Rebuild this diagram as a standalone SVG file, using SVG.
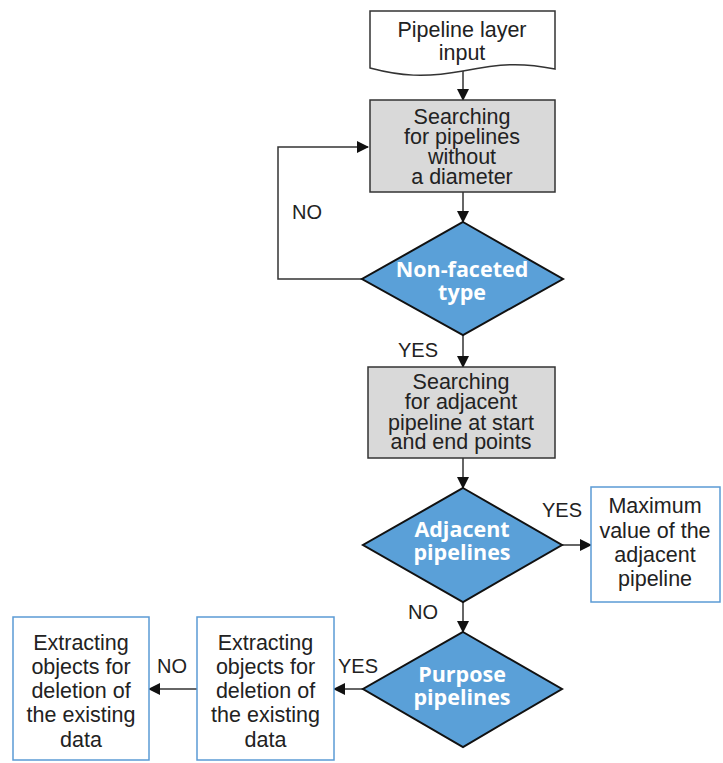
<svg xmlns="http://www.w3.org/2000/svg" width="723" height="763" viewBox="0 0 723 763">
<defs>
<marker id="ah" markerWidth="12" markerHeight="12" refX="11" refY="6" orient="auto" markerUnits="userSpaceOnUse">
<path d="M0,0 L12,6 L0,12 Z" fill="#111"/>
</marker>
<style>
.t{font-family:"Liberation Sans",Arial,sans-serif;font-size:21.5px;fill:#222;text-anchor:middle}
.lbl{font-family:"Liberation Sans",Arial,sans-serif;font-size:20px;fill:#222}
.dt{font-family:"Open Sans","Noto Sans",sans-serif;font-size:21.5px;font-weight:bold;fill:#fff;text-anchor:middle}
.gray{fill:#d9d9d9;stroke:#333;stroke-width:1.5}
.blue{fill:#fff;stroke:#5b9bd5;stroke-width:1.5}
.dia{fill:#5aa0d8;stroke:#111;stroke-width:2}
.doc{fill:#fff;stroke:#333;stroke-width:1.5}
.c{fill:none;stroke:#333;stroke-width:1.5;marker-end:url(#ah)}
</style>
</defs>
<rect width="723" height="763" fill="#fff"/>
<g id="connectors">
<path class="c" d="M463,71 V100"/>
<path class="c" d="M463,192 V222"/>
<path class="c" d="M362,279 H278 V147 H368"/>
<path class="c" d="M463,335 V367"/>
<path class="c" d="M463,458 V488"/>
<path class="c" d="M562,545 H591"/>
<path class="c" d="M463,602 V632"/>
<path class="c" d="M363,689 H334"/>
<path class="c" d="M197,689 H149"/>
</g>
<g id="labels">
<text class="lbl" x="292" y="219">NO</text>
<text class="lbl" x="398" y="357">YES</text>
<text class="lbl" x="542" y="517">YES</text>
<text class="lbl" x="408" y="619">NO</text>
<text class="lbl" x="338" y="673">YES</text>
<text class="lbl" x="157" y="673">NO</text>
</g>
<g id="input">
<path class="doc" d="M370,11 H555 V69 C520,62 500,64 463,71 C425,78 400,76 370,68 Z"/>
<text class="t" x="462" y="37">Pipeline layer</text>
<text class="t" x="462" y="60">input</text>
</g>
<g id="search1">
<rect class="gray" x="370" y="100" width="185" height="92"/>
<text class="t" x="462" y="124">Searching</text>
<text class="t" x="462" y="144">for pipelines</text>
<text class="t" x="462" y="164">without</text>
<text class="t" x="462" y="184">a diameter</text>
</g>
<g id="nonfaceted">
<polygon class="dia" points="463,222 563,279 463,335 362,279"/>
<text class="dt" x="462" y="277">Non-faceted</text>
<text class="dt" x="462" y="300">type</text>
</g>
<g id="search2">
<rect class="gray" x="368" y="367" width="187" height="91"/>
<text class="t" x="461" y="389">Searching</text>
<text class="t" x="461" y="409">for adjacent</text>
<text class="t" x="461" y="430">pipeline at start</text>
<text class="t" x="461" y="449">and end points</text>
</g>
<g id="adjacent">
<polygon class="dia" points="463,488 562,545 463,602 363,545"/>
<text class="dt" x="462" y="537">Adjacent</text>
<text class="dt" x="462" y="560">pipelines</text>
</g>
<g id="maximum">
<rect class="blue" x="591" y="487" width="129" height="115"/>
<text class="t" x="655" y="513">Maximum</text>
<text class="t" x="655" y="538">value of the</text>
<text class="t" x="655" y="562">adjacent</text>
<text class="t" x="655" y="586">pipeline</text>
</g>
<g id="purpose">
<polygon class="dia" points="463,632 562,689 463,747 363,689"/>
<text class="dt" x="462" y="682">Purpose</text>
<text class="dt" x="462" y="705">pipelines</text>
</g>
<g id="extract1">
<rect class="blue" x="197" y="617" width="137" height="143"/>
<text class="t" x="265.5" y="650">Extracting</text>
<text class="t" x="265.5" y="674">objects for</text>
<text class="t" x="265.5" y="698">deletion of</text>
<text class="t" x="265.5" y="722">the existing</text>
<text class="t" x="265.5" y="747">data</text>
</g>
<g id="extract2">
<rect class="blue" x="13" y="617" width="136" height="143"/>
<text class="t" x="81" y="650">Extracting</text>
<text class="t" x="81" y="674">objects for</text>
<text class="t" x="81" y="698">deletion of</text>
<text class="t" x="81" y="722">the existing</text>
<text class="t" x="81" y="747">data</text>
</g>
</svg>
